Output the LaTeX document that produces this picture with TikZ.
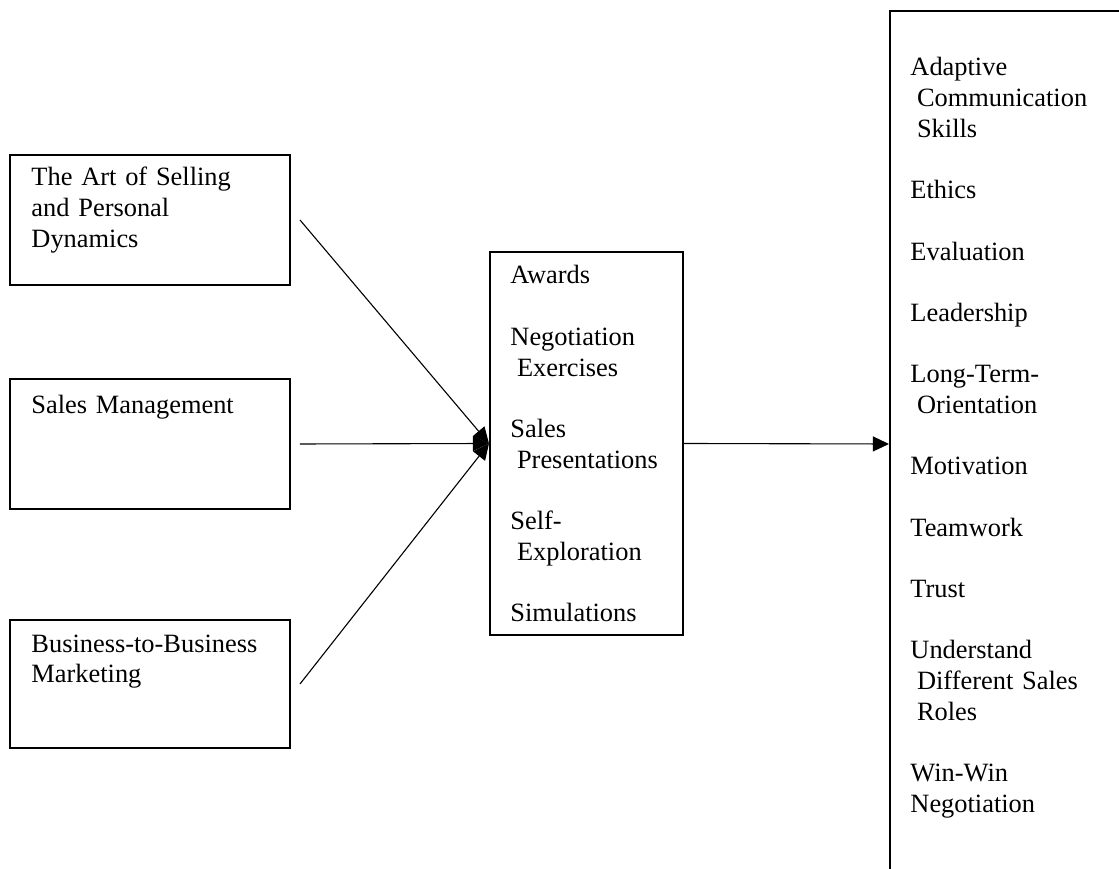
\documentclass[tikz,border=0pt]{standalone}
\usepackage{fontspec}
\setmainfont{Liberation Serif}
\usetikzlibrary{arrows.meta, calc}

% one unit of the picture is one pixel of the reference
\newlength{\pxu}\setlength{\pxu}{0.4545pt}
\newcommand{\indsp}{\hspace*{.25em}}
\newcommand{\itemgap}{\\[13.94pt]}

\begin{document}
\begin{tikzpicture}[x=\pxu, y=-\pxu, >={Triangle[length=7.3pt, width=6.8pt]},
  box/.style={draw, line width=0.9pt, anchor=north west, inner sep=0pt},
  boxtext/.style={anchor=base west, inner sep=0pt, align=left, font=\fontsize{12}{13.94}\selectfont}]

  \useasboundingbox (0,0) rectangle (1119,869);
  \clip (0,0) rectangle (1119,869);

  % Courses on the left
  \node[box, minimum width=280*\pxu, minimum height=130*\pxu] (art) at (9,154) {};
  \node[box, minimum width=280*\pxu, minimum height=130*\pxu] (mgmt) at (9,378) {};
  \node[box, minimum width=280*\pxu, minimum height=128*\pxu] (btob) at (9,619) {};
  \node[boxtext, text width=255*\pxu] (arttext) at (31,186) {The Art of Selling\\and Personal\\Dynamics};
  \node[boxtext, text width=255*\pxu] (mgmttext) at (31,413) {Sales Management};
  \node[boxtext, text width=255*\pxu] (btobtext) at (31,652) {Business-to-Business\\Marketing};

  % Activities in the middle
  \node[box, minimum width=193*\pxu, minimum height=383*\pxu] (act) at (489,251) {};
  \node[boxtext, text width=170*\pxu] (acttext) at (510,284) {Awards\itemgap
    Negotiation\\\indsp Exercises\itemgap
    Sales\\\indsp Presentations\itemgap
    Self-\\\indsp Exploration\itemgap
    Simulations};

  % Skills on the right (box runs off the page)
  \node[box, minimum width=260*\pxu, minimum height=866*\pxu] (skl) at (889,10) {};
  \node[boxtext, text width=200*\pxu] (skltext) at (910,76) {Adaptive\\\indsp Communication\\\indsp Skills\itemgap
    Ethics\itemgap
    Evaluation\itemgap
    Leadership\itemgap
    Long-Term-\\\indsp Orientation\itemgap
    Motivation\itemgap
    Teamwork\itemgap
    Trust\itemgap
    Understand\\\indsp Different Sales\\\indsp Roles\itemgap
    Win-Win\\Negotiation};

  % Connectors
  \draw[->, line width=0.5pt] ([xshift=9*\pxu]art.east) -- (act.west);
  \draw[->, line width=0.5pt] ([xshift=9*\pxu]mgmt.east) -- (act.west);
  \draw[->, line width=0.5pt] ([xshift=9*\pxu]btob.east) -- (act.west);
  \draw[->, line width=0.5pt] (act.east) -- (skl.west);

\end{tikzpicture}
\end{document}
